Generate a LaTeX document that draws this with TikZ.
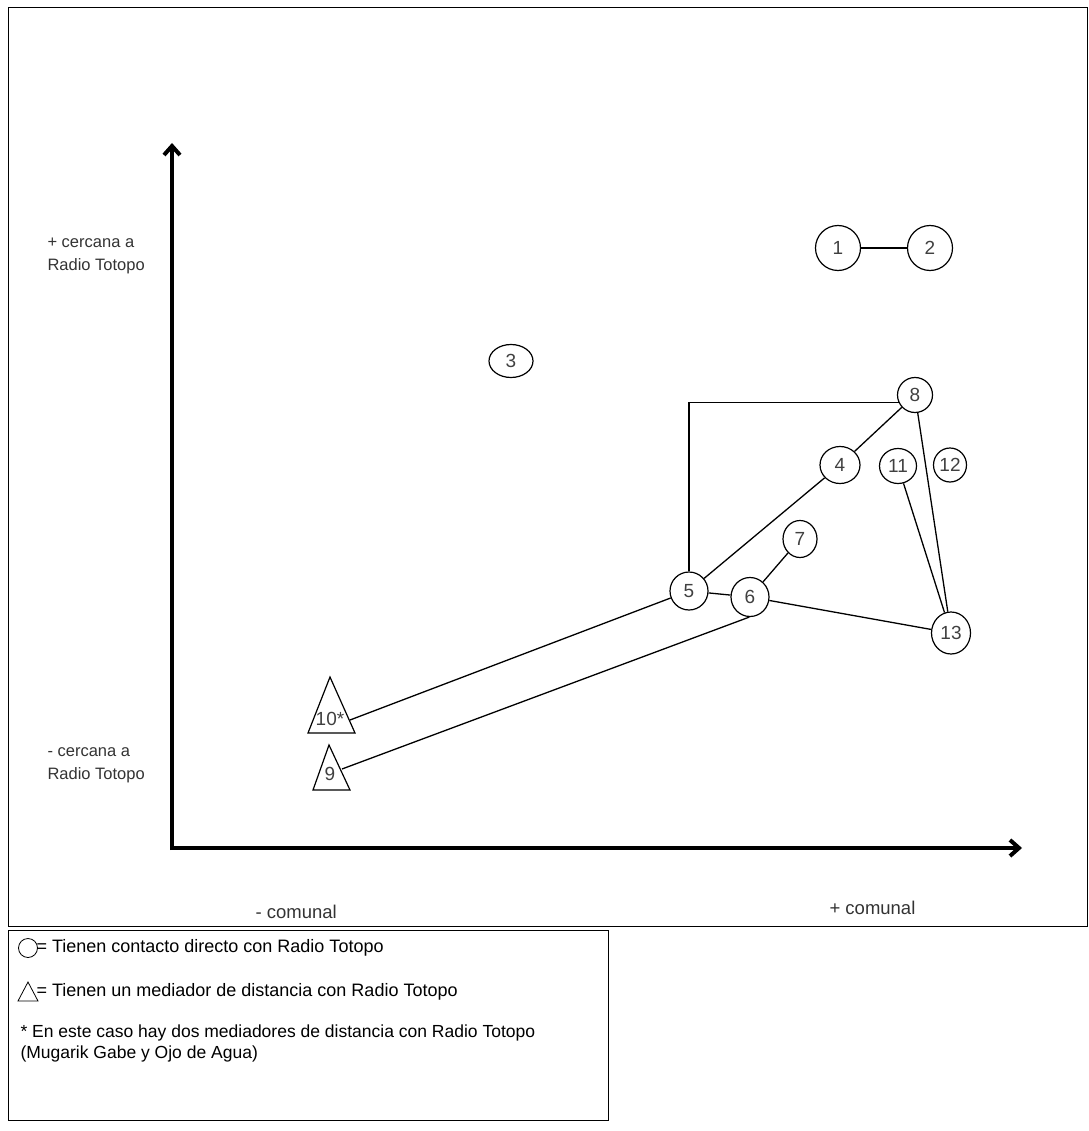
\documentclass[tikz,border=0pt]{standalone}
\usepackage{fontspec}
\setmainfont{Liberation Sans}
\usetikzlibrary{shapes.geometric,arrows.meta}
\begin{document}
\begin{tikzpicture}[x=1pt,y=-1pt,
  nd/.style={draw,ellipse,line width=1.2pt,inner sep=0pt,font=\fontsize{19}{19}\selectfont,text=black!75},
  tl/.style={font=\fontsize{19}{19}\selectfont,text=black!75,inner sep=0pt},
  cn/.style={line width=1.3pt},
  ax/.style={line width=4pt,-{Straight Barb[length=9pt,width=16pt]}},
  lab/.style={font=\fontsize{16.5}{23}\selectfont,align=left,anchor=west,text=black!80},
  xlab/.style={font=\fontsize{18.5}{22}\selectfont,anchor=west,text=black!80},
  leg/.style={font=\fontsize{18}{20}\selectfont,anchor=west},
  legs/.style={font=\fontsize{17.5}{21}\selectfont,anchor=west,align=left}]
\useasboundingbox (0,0) rectangle (1088,1131);
% frames
\draw[line width=1pt] (8,8) rectangle (1087,926);
\draw[line width=1pt] (8,930) rectangle (608,1120);
% axes
\coordinate (o) at (172,848);
\coordinate (ytip) at (172,143);
\coordinate (xtip) at (1022,848);
\draw[ax] (172,850) -- (ytip);
\draw[ax] (170,848) -- (xtip);
% axis labels
\node[lab] (ylt) at (44,256) {+ cercana a\\Radio Totopo};
\node[lab] (ylb) at (44,765) {- cercana a\\Radio Totopo};
\node[xlab] (xll) at (252,912) {- comunal};
\node[xlab] (xlr) at (826,908) {+ comunal};
% nodes
\node[nd,minimum width=45pt,minimum height=45pt] (n1) at (838,248) {1};
\node[nd,minimum width=45pt,minimum height=45pt] (n2) at (930,248) {2};
\node[nd,minimum width=44pt,minimum height=33pt] (n3) at (511,361) {3};
\node[nd,minimum width=35pt,minimum height=35pt] (n8) at (915,395) {8};
\node[nd,minimum width=40pt,minimum height=37pt] (n4) at (840,465) {4};
\node[nd,minimum width=37pt,minimum height=35pt] (n11) at (898,466) {11};
\node[nd,minimum width=33pt,minimum height=34pt] (n12) at (950,465) {12};
\node[nd,minimum width=34pt,minimum height=37pt] (n7) at (800,539) {7};
\node[nd,minimum width=38pt,minimum height=38pt] (n5) at (689,591) {5};
\node[nd,minimum width=38pt,minimum height=39pt] (n6) at (750,597) {6};
\node[nd,minimum width=39pt,minimum height=42pt] (n13) at (951,633) {13};
% triangles
\draw[line width=1.2pt] (330,677) -- (308,733) -- (355,733) -- cycle;
\node[tl] (t10) at (330,719) {10*};
\coordinate (c10) at (350,720);
\draw[line width=1.2pt] (329,745) -- (313,790) -- (350,790) -- cycle;
\node[tl] (t9) at (330,774) {9};
\coordinate (c9) at (342,769);
% connectors
\draw[cn] (n1) -- (n2);
\draw[cn] (n8.205) -| (n5.north);
\draw[cn] (n8) -- (n4);
\draw[cn] (n4) -- (n5);
\draw[cn] (n5) -- (n6);
\draw[cn] (n6) -- (n7);
\draw[cn] (n6) -- (n13);
\draw[cn] (n11) -- (n13);
\draw[cn] (n8) -- (n13);
\draw[cn] (c10) -- (n5);
\draw[cn] (c9) -- (n6.268);
% legend
\node[draw,circle,line width=0.8pt,minimum size=19pt,inner sep=0pt] (lc) at (28,948) {};
\node[leg] (lt1) at (33,948) {= Tienen contacto directo con Radio Totopo};
\draw[line width=0.8pt] (28,982) -- (18,1001) -- (38,1001) -- cycle;
\coordinate (ltri) at (38,992);
\node[leg] (lt2) at (33,992) {= Tienen un mediador de distancia con Radio Totopo};
\node[legs] (lt3) at (17,1043) {* En este caso hay dos mediadores de distancia con Radio Totopo\\(Mugarik Gabe y Ojo de Agua)};
\end{tikzpicture}
\end{document}
